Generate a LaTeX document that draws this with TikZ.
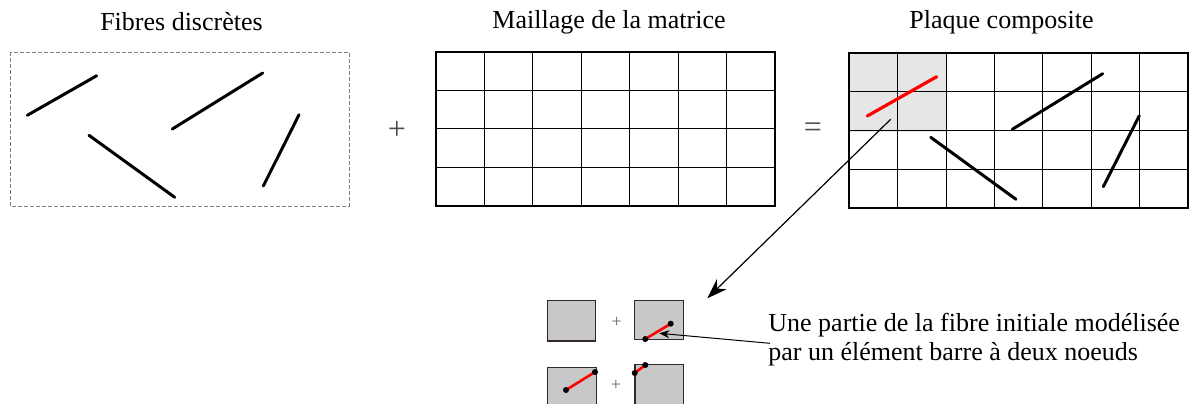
\documentclass[tikz,border=0pt]{standalone}
\usepackage{fontspec}
\setmainfont{Liberation Serif}
\usetikzlibrary{arrows.meta}
\definecolor{elemgray}{RGB}{200,200,200}
\definecolor{elemedge}{RGB}{50,40,40}
\definecolor{cellgray}{RGB}{230,230,230}
\begin{document}
\begin{tikzpicture}[x=0.5pt,y=-0.5pt,
  fibre/.style={line width=1.5pt,line cap=round},
  redfibre/.style={line width=1.6pt,red,line cap=round},
  gridline/.style={line width=0.5pt},
  outer/.style={line width=1pt},
  elem/.style={fill=elemgray,draw=elemedge,line width=0.7pt},
  dot/.style={circle,fill=black,inner sep=0pt,minimum size=3pt},
  title/.style={font=\fontsize{13}{15}\selectfont,anchor=center},
  op/.style={font=\fontsize{16}{18}\selectfont,text=black!70},
  smallop/.style={font=\fontsize{9}{10}\selectfont,text=black!60}]
\useasboundingbox (0,0) rectangle (1196,403);
% titles
\node[title] (t1) at (181.5,22) {Fibres discrètes};
\node[title] (t2) at (609,22) {Maillage de la matrice};
\node[title] (t3) at (1001.5,22) {Plaque composite};
% left box
\draw[gray,line width=0.5pt,dash pattern=on 2pt off 1pt] (10,52) rectangle (349,206);
\draw[fibre] (27.3,115.3) -- (96.7,75.7);
\draw[fibre] (172.3,129) -- (262.7,73);
\draw[fibre] (89,135.3) -- (174.7,197.3);
\draw[fibre] (263.3,186) -- (299,114.7);
% operators
\node[op] (plus) at (397,130) {+};
\node[op] (eq) at (813,130) {=};
% middle grid
\foreach \x in {484.4,532.9,581.3,629.7,678.1,726.6}
  \draw[gridline] (\x,51.7) -- (\x,206);
\foreach \y in {90.3,128.9,167.4}
  \draw[gridline] (436,\y) -- (775,\y);
\draw[outer] (436,51.7) rectangle (775,206);
% right grid
\fill[cellgray] (849,53.3) rectangle (946.7,131.7);
\foreach \x in {897.5,946,994.4,1042.9,1091.4,1139.8}
  \draw[gridline] (\x,53.3) -- (\x,207.7);
\foreach \y in {91.9,130.5,169.1}
  \draw[gridline] (849,\y) -- (1188.3,\y);
\draw[outer] (849,53.3) rectangle (1188.3,207.7);
\draw[redfibre] (867.3,116) -- (936.7,76.7);
\draw[fibre] (1012.3,129.3) -- (1102.7,73.7);
\draw[fibre] (930.7,137.3) -- (1016,199.3);
\draw[fibre] (1103.3,186.7) -- (1139.3,115.7);
% big arrow
\coordinate (bs) at (890.7,119.3);
\coordinate (be) at (707.3,298.3);
\draw[line width=0.6pt,-{Stealth[length=10pt,width=7pt,inset=3pt]}] (bs) -- (be);
% small elements
\draw[elem] (547.3,300.7) rectangle (595.7,341);
\node[smallop] (p1) at (616.7,322.3) {+};
\draw[elem] (634.3,300.7) rectangle (683.7,339.3);
\draw[redfibre,line width=1.3pt] (645.3,339) -- (670.7,323.7);
\node[dot] (d1) at (645.3,339) {};
\node[dot] (d2) at (670.7,323.7) {};
\draw[elem] (547.3,367.7) rectangle (596.3,420);
\node[smallop] (p2) at (616,385) {+};
\draw[elem] (635,364.3) rectangle (683.3,420);
\draw[redfibre,line width=1.3pt] (566,390) -- (595,372);
\node[dot] (d3) at (566,390) {};
\node[dot] (d4) at (595,372) {};
\draw[redfibre,line width=1.3pt] (634.7,373) -- (645.3,365);
\node[dot] (d5) at (634.7,373) {};
\node[dot] (d6) at (645.3,365) {};
% label
\node[anchor=north west,align=left,inner sep=0pt,font=\fontsize{13}{14.5}\selectfont] (lbl) at (768,313)
 {Une partie de la fibre initiale modélisée\\par un élément barre à deux noeuds};
\coordinate (ls) at (770,343.3);
\coordinate (le) at (659.3,333.3);
\draw[line width=0.5pt,-{Stealth[length=5pt,width=4pt,inset=1.5pt]}] (ls) -- (le);
\end{tikzpicture}
\end{document}
